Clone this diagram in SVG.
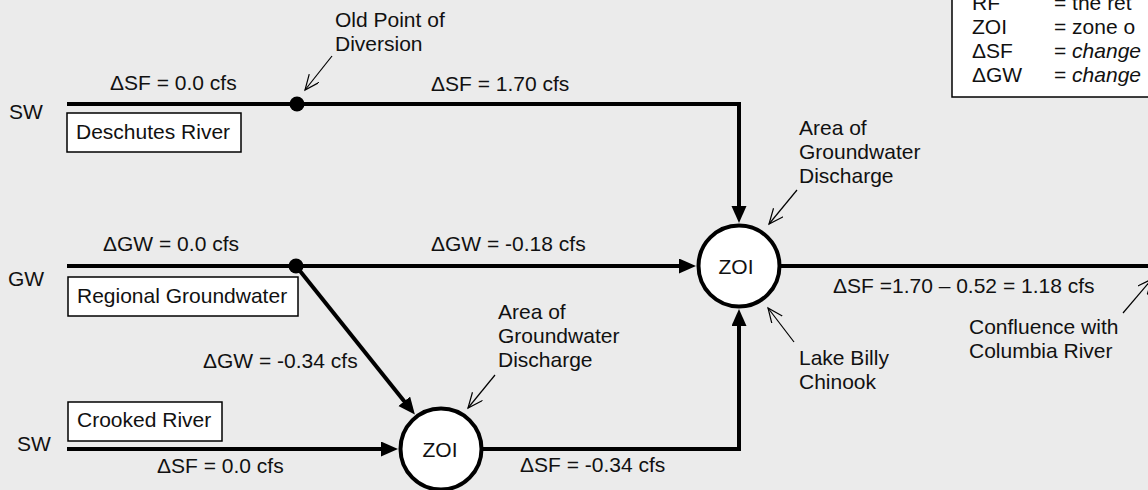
<svg xmlns="http://www.w3.org/2000/svg" width="1148" height="490" viewBox="0 0 1148 490">
<defs>
<style>
text{font-family:"Liberation Sans",Arial,Helvetica,sans-serif;font-size:21px;fill:#111}
.flow{fill:none;stroke:#000;stroke-width:4}
.note{fill:none;stroke:#000;stroke-width:1.2}
.box{fill:#fff;stroke:#000;stroke-width:1.5}
.zoi{fill:#fff;stroke:#000;stroke-width:4}
.mid{text-anchor:middle}
</style>
<marker id="ah" markerUnits="userSpaceOnUse" markerWidth="18" markerHeight="16" refX="6" refY="7.5" orient="auto">
<path d="M0,0 L17,7.5 L0,15 z" fill="#000"/>
</marker>
<marker id="oa" markerUnits="userSpaceOnUse" markerWidth="18" markerHeight="16" refX="15" refY="6.5" orient="auto">
<path d="M0,0 L15,6.5 L0,13" fill="none" stroke="#000" stroke-width="1.2"/>
</marker>
</defs>
<rect x="0" y="0" width="1148" height="490" fill="#ebebeb"/>

<g id="connectors">
<path class="flow" d="M67,104 H739 V212" marker-end="url(#ah)"/>
<path class="flow" d="M67,266 H685" marker-end="url(#ah)"/>
<path class="flow" d="M296,266 L408,406" marker-end="url(#ah)"/>
<path class="flow" d="M67,449 H387" marker-end="url(#ah)"/>
<path class="flow" d="M483,449 H739 V320" marker-end="url(#ah)"/>
<path class="flow" d="M781,266 H1148"/>
<circle cx="297" cy="104" r="7.5" fill="#000"/>
<circle cx="296" cy="266" r="7.5" fill="#000"/>
<text x="110" y="90">ΔSF = 0.0 cfs</text>
<text x="431" y="91">ΔSF = 1.70 cfs</text>
<text x="103" y="251">ΔGW = 0.0 cfs</text>
<text x="431" y="251">ΔGW = -0.18 cfs</text>
<text x="203" y="368">ΔGW = -0.34 cfs</text>
<text x="157" y="473">ΔSF = 0.0 cfs</text>
<text x="520" y="472">ΔSF = -0.34 cfs</text>
<text x="833" y="293">ΔSF =1.70 – 0.52 = 1.18 cfs</text>
</g>

<g id="deschutes">
<text x="9" y="119">SW</text>
<rect class="box" x="67" y="113" width="174" height="39"/>
<text x="76" y="139">Deschutes River</text>
</g>

<g id="regional-gw">
<text x="8" y="286">GW</text>
<rect class="box" x="68" y="277" width="230" height="39"/>
<text x="77" y="303">Regional Groundwater</text>
</g>

<g id="crooked">
<text x="17" y="451">SW</text>
<rect class="box" x="68" y="402" width="154" height="39"/>
<text x="77" y="427">Crooked River</text>
</g>

<g id="zoi-small">
<circle class="zoi" cx="441" cy="449" r="40.5"/>
<text class="mid" x="440" y="457">ZOI</text>
</g>

<g id="zoi-main">
<circle class="zoi" cx="739" cy="266" r="40.5"/>
<text class="mid" x="736" y="274">ZOI</text>
</g>

<g id="note-diversion">
<text x="335" y="27">Old Point of</text>
<text x="335" y="51">Diversion</text>
<line class="note" x1="332" y1="56" x2="305" y2="90" marker-end="url(#oa)"/>
</g>

<g id="note-discharge-small">
<text x="498" y="319">Area of</text>
<text x="498" y="343">Groundwater</text>
<text x="498" y="367">Discharge</text>
<line class="note" x1="495" y1="375" x2="468" y2="408" marker-end="url(#oa)"/>
</g>

<g id="note-discharge-main">
<text x="799" y="135">Area of</text>
<text x="799" y="159">Groundwater</text>
<text x="799" y="183">Discharge</text>
<line class="note" x1="797" y1="190" x2="769" y2="224" marker-end="url(#oa)"/>
</g>

<g id="note-lake">
<text x="799" y="365">Lake Billy</text>
<text x="799" y="389">Chinook</text>
<line class="note" x1="794" y1="342" x2="768" y2="308" marker-end="url(#oa)"/>
</g>

<g id="note-confluence">
<text x="969" y="334">Confluence with</text>
<text x="969" y="358">Columbia River</text>
<line class="note" x1="1123" y1="313" x2="1152" y2="279" marker-end="url(#oa)"/>
</g>

<g id="legend">
<rect class="box" x="952" y="-10" width="210" height="107"/>
<text x="972" y="10">RF</text>
<text x="1054" y="10">= the ret</text>
<text x="972" y="34">ZOI</text>
<text x="1054" y="34">= zone o</text>
<text x="972" y="58">ΔSF</text>
<text x="1054" y="58">= <tspan font-style="italic">change</tspan></text>
<text x="972" y="82">ΔGW</text>
<text x="1054" y="82">= <tspan font-style="italic">change</tspan></text>
</g>
</svg>
